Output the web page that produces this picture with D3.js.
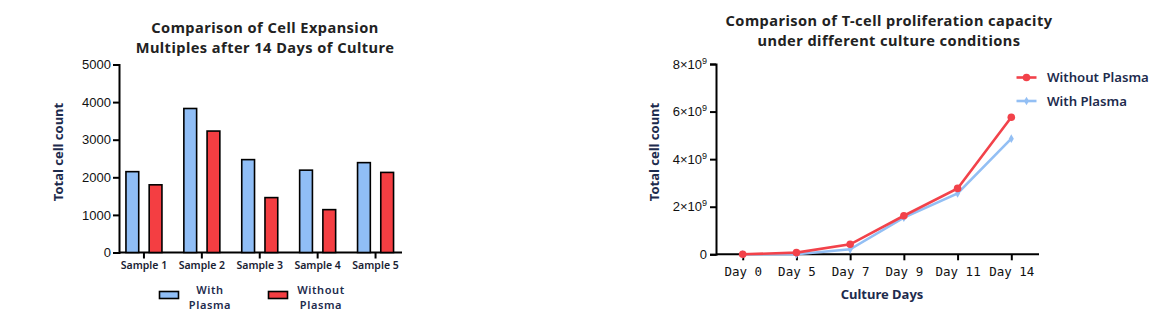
<!DOCTYPE html>
<html>
<head>
<meta charset="utf-8">
<script src="https://cdn.jsdelivr.net/npm/d3@7"></script>
<style>
  body { margin: 0; background: #fff; }
  svg { display: block; }
</style>
</head>
<body>
<svg id="chart" width="1176" height="315"></svg>
<script>
// bar chart data
const samples = ['Sample 1', 'Sample 2', 'Sample 3', 'Sample 4', 'Sample 5'];
const withPlasma = [2150, 3830, 2470, 2190, 2390];
const withoutPlasma = [1800, 3230, 1460, 1140, 2130];
const barTicks = [0, 1000, 2000, 3000, 4000, 5000];

// line chart data
const days = ['Day 0', 'Day 5', 'Day 7', 'Day 9', 'Day 11', 'Day 14'];
const lineWithout = [0, 0.07e9, 0.42e9, 1.62e9, 2.77e9, 5.76e9];
const lineWith = [0, 0.0, 0.21e9, 1.54e9, 2.56e9, 4.86e9];
const lineTicks = [0, 2e9, 4e9, 6e9, 8e9];

const BLUE = '#90bef6';
const RED = '#f43e42';
const LINE_BLUE = '#93bff4';
const LINE_RED = '#f2424a';
const TITLE_FONT = '"Noto Sans", "Open Sans", sans-serif';
const NUM_FONT = '"Liberation Sans", Arial, sans-serif';

const svg = d3.select('#chart');

// two-line bold title, spaced so the lines don't collide
function title(g, cx, y0, lines) {
  const t = g.append('text').attr('text-anchor', 'middle')
    .attr('font-family', TITLE_FONT).attr('font-size', 14.6).attr('font-weight', 700)
    .attr('letter-spacing', 0.45).attr('fill', '#222');
  lines.forEach((s, i) => t.append('tspan').attr('x', cx).attr('y', y0 + i * 20).text(s));
}

// ---------- left: grouped bars ----------
{
  const g = svg.append('g');
  const y = d3.scaleLinear().domain([0, 5000]).range([252.5, 64.5]);
  const x = d3.scaleBand().domain(samples).range([115, 404.5]);
  const inner = d3.scaleBand().domain(['with', 'without']).range([-18, 18]).paddingInner(0.45);

  const yAxis = g.append('g').attr('transform', 'translate(119,0)')
    .call(d3.axisLeft(y).tickValues(barTicks).tickSize(6).tickPadding(2).tickFormat(d3.format('d')));
  const xAxis = g.append('g').attr('transform', 'translate(0,252.5)')
    .call(d3.axisBottom(x).tickSize(6).tickPadding(3));
  xAxis.select('.domain').attr('d', 'M119,0H402');

  [yAxis, xAxis].forEach(a => {
    a.selectAll('.domain, .tick line').attr('stroke', '#000').attr('stroke-width', 2);
  });
  yAxis.selectAll('text').attr('font-family', NUM_FONT).attr('font-size', 13).attr('fill', '#111');
  xAxis.selectAll('text').attr('font-family', TITLE_FONT).attr('font-size', 10.5)
    .attr('font-weight', 600).attr('fill', '#1a2233');

  const groups = g.selectAll('.grp').data(samples).join('g')
    .attr('transform', d => `translate(${x(d) + x.bandwidth() / 2},0)`);

  groups.append('rect')
    .attr('x', inner('with')).attr('width', inner.bandwidth())
    .attr('y', (d, i) => y(withPlasma[i])).attr('height', (d, i) => y(0) - y(withPlasma[i]))
    .attr('fill', BLUE).attr('stroke', '#000').attr('stroke-width', 1.6);
  groups.append('rect')
    .attr('x', inner('without')).attr('width', inner.bandwidth())
    .attr('y', (d, i) => y(withoutPlasma[i])).attr('height', (d, i) => y(0) - y(withoutPlasma[i]))
    .attr('fill', RED).attr('stroke', '#000').attr('stroke-width', 1.6);

  title(g, 265, 32.5, ['Comparison of Cell Expansion', 'Multiples after 14 Days of Culture']);

  g.append('text').attr('transform', 'translate(63,152) rotate(-90)').attr('text-anchor', 'middle')
    .attr('font-family', TITLE_FONT).attr('font-size', 13).attr('font-weight', 700).attr('fill', '#1d2b4d')
    .text('Total cell count');

  // legend
  const leg = [
    { lab: ['With', 'Plasma'], c: BLUE, rx: 159.5, tx: 210 },
    { lab: ['Without', 'Plasma'], c: RED, rx: 268.5, tx: 321 }
  ];
  leg.forEach(l => {
    g.append('rect').attr('x', l.rx).attr('y', 291.5).attr('width', 19).attr('height', 7)
      .attr('fill', l.c).attr('stroke', '#000').attr('stroke-width', 1.6);
    const lt = g.append('text').attr('text-anchor', 'middle').attr('font-family', TITLE_FONT)
      .attr('font-size', 11).attr('letter-spacing', 0.6).attr('font-weight', 600).attr('fill', '#1d2b4d');
    lt.append('tspan').attr('x', l.tx).attr('y', 294).text(l.lab[0]);
    lt.append('tspan').attr('x', l.tx).attr('y', 309.2).text(l.lab[1]);
  });
}

// ---------- right: lines ----------
{
  const g = svg.append('g');
  const y = d3.scaleLinear().domain([0, 8e9]).range([254.3, 64]);
  const x = d3.scalePoint().domain(days).range([742.7, 1011.3]);

  const yAxis = g.append('g').attr('transform', 'translate(716,0)')
    .call(d3.axisLeft(y).tickValues(lineTicks).tickSize(6).tickPadding(3).tickFormat(() => ''));
  yAxis.selectAll('.tick text').each(function (d) {
    const s = d3.select(this).attr('font-family', NUM_FONT).attr('font-size', 13).attr('fill', '#111');
    if (d === 0) { s.text('0'); return; }
    s.append('tspan').text((d / 1e9) + '×10');
    s.append('tspan').attr('dy', -5).attr('font-size', 9).text('9');
  });
  const xAxis = g.append('g').attr('transform', 'translate(0,254.3)')
    .call(d3.axisBottom(x).tickSize(6).tickPadding(7));
  xAxis.select('.domain').attr('d', 'M716,0H1039');
  [yAxis, xAxis].forEach(a => {
    a.selectAll('.domain, .tick line').attr('stroke', '#000').attr('stroke-width', 2);
  });
  xAxis.selectAll('text').attr('font-family', '"DejaVu Sans Mono", monospace').attr('font-size', 12.5)
    .attr('fill', '#111');

  const line = d3.line().x((d, i) => x(days[i])).y(d => y(d));

  g.append('path').datum(lineWith).attr('d', line).attr('fill', 'none')
    .attr('stroke', LINE_BLUE).attr('stroke-width', 2.6);
  g.selectAll('.pw').data(lineWith).join('path')
    .attr('transform', (d, i) => `translate(${x(days[i])},${y(d)})`)
    .attr('d', d3.symbol(d3.symbolDiamond, 22)).attr('fill', LINE_BLUE);

  g.append('path').datum(lineWithout).attr('d', line).attr('fill', 'none')
    .attr('stroke', LINE_RED).attr('stroke-width', 2.6);
  g.selectAll('.pr').data(lineWithout).join('circle')
    .attr('cx', (d, i) => x(days[i])).attr('cy', d => y(d)).attr('r', 3.8).attr('fill', LINE_RED);

  title(g, 889, 26, ['Comparison of T-cell proliferation capacity', 'under different culture conditions']);

  g.append('text').attr('transform', 'translate(659,152) rotate(-90)').attr('text-anchor', 'middle')
    .attr('font-family', TITLE_FONT).attr('font-size', 13).attr('font-weight', 700).attr('fill', '#1d2b4d')
    .text('Total cell count');
  g.append('text').attr('x', 882).attr('y', 299).attr('text-anchor', 'middle')
    .attr('font-family', TITLE_FONT).attr('font-size', 13).attr('font-weight', 700).attr('fill', '#1d2b4d')
    .text('Culture Days');

  // legend
  const leg = [
    { lab: 'Without Plasma', c: LINE_RED, y: 77.5, sym: 'c' },
    { lab: 'With Plasma', c: LINE_BLUE, y: 101, sym: 'd' }
  ];
  leg.forEach(l => {
    g.append('line').attr('x1', 1016.5).attr('x2', 1036.5).attr('y1', l.y).attr('y2', l.y)
      .attr('stroke', l.c).attr('stroke-width', 2.6);
    if (l.sym === 'c') g.append('circle').attr('cx', 1026.5).attr('cy', l.y).attr('r', 3.8).attr('fill', l.c);
    else g.append('path').attr('transform', `translate(1026.5,${l.y})`)
      .attr('d', d3.symbol(d3.symbolDiamond, 22)).attr('fill', l.c);
    g.append('text').attr('x', 1047).attr('y', l.y + 4.5).attr('font-family', TITLE_FONT)
      .attr('font-size', 13.2).attr('font-weight', 600).attr('fill', '#1d2b4d').text(l.lab);
  });
}
</script>
</body>
</html>
